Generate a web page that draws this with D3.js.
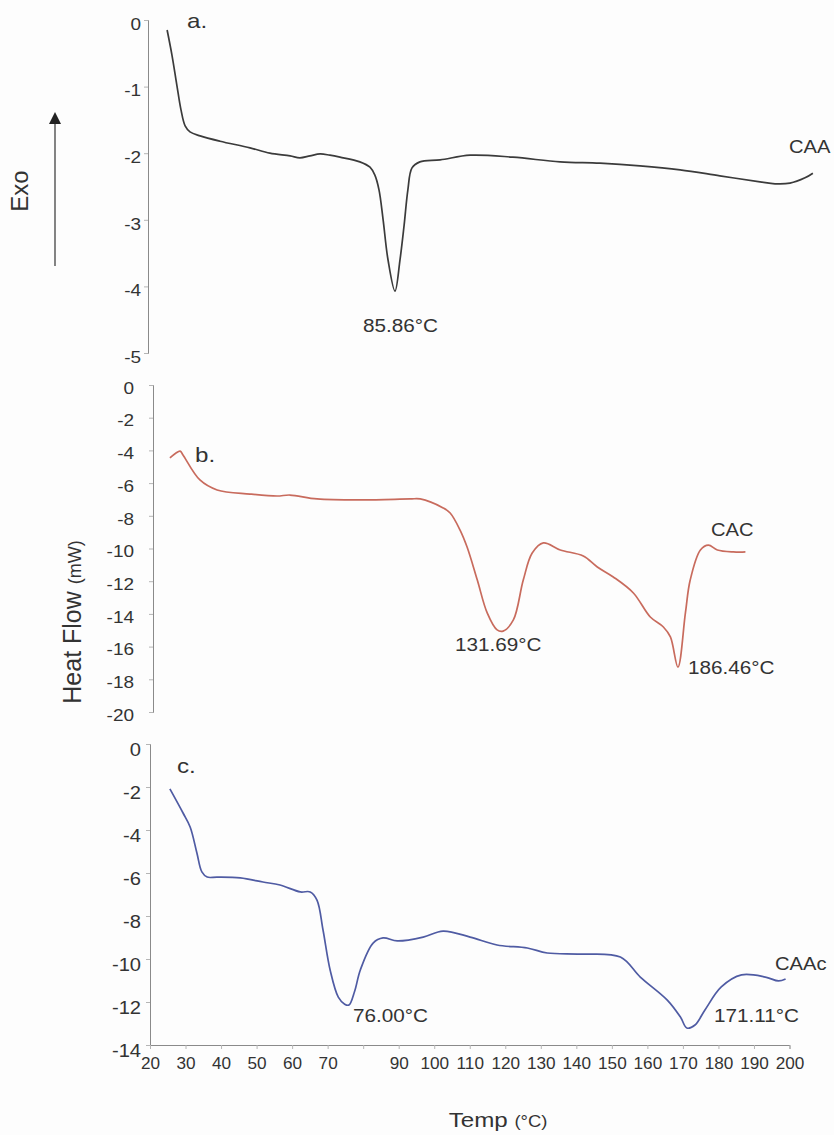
<!DOCTYPE html>
<html>
<head>
<meta charset="utf-8">
<script src="https://cdn.jsdelivr.net/npm/d3@7"></script>
<style>
  html, body { margin: 0; padding: 0; background: #fdfdfd; }
  svg { display: block; font-family: "Liberation Sans", Arial, sans-serif; }
</style>
</head>
<body>
<svg id="chart" width="834" height="1135"></svg>
<script>
// ---- DSC thermograms: temperature (°C) vs heat flow (mW) ----

// a. CAA
const caaTemp = [25.1, 26.4, 27.7, 28.8, 29.9, 31.2, 33.9, 39.2, 47.2, 52.5, 57.9, 60.5, 63.2, 65.9, 68.5, 71.2,
  76.5, 79.2, 80.5, 81.6, 82.7, 84.0, 85.86, 87.2, 88.3, 89.3, 90.4, 92.5, 97.9, 105.9, 117.3, 129.9,
  140.5, 151.2, 161.9, 172.5, 183.2, 187.2, 191.2, 195.2, 197.3];
const caaFlow = [-0.15, -0.53, -0.98, -1.35, -1.59, -1.68, -1.74, -1.82, -1.92, -2.0, -2.04, -2.07, -2.04, -2.01, -2.03, -2.06,
  -2.13, -2.21, -2.33, -2.55, -3.0, -3.6, -4.07, -3.6, -3.08, -2.55, -2.22, -2.13, -2.1, -2.03, -2.06, -2.13,
  -2.15, -2.19, -2.25, -2.34, -2.43, -2.46, -2.45, -2.37, -2.3];

// b. CAC
const cacTemp = [27.3, 30.5, 31.4, 36.7, 42.1, 52.4, 60.9, 64.9, 73.4, 87.8, 102.6, 105.7, 112.9, 115.1, 118.2, 120.4,
  123.6, 126.7, 129.8, 131.69, 134.9, 138.0, 140.8, 144.3, 149.6, 156.8, 161.2, 166.2, 172.5, 177.8, 181.9,
  184.1, 186.46, 188.8, 190.3, 193.5, 196.0, 198.8, 203.8, 207.6];
const cacFlow = [-4.46, -4.04, -4.28, -5.81, -6.42, -6.67, -6.79, -6.73, -6.97, -7.03, -6.97, -6.97, -7.52, -7.83, -8.87, -9.91,
  -11.93, -13.94, -14.98, -15.05, -14.37, -11.93, -10.28, -9.66, -10.09, -10.46, -11.13, -11.74, -12.72, -14.19, -14.8,
  -15.41, -17.25, -13.94, -11.93, -10.09, -9.79, -10.09, -10.21, -10.21];

// c. CAAc
const caacTemp = [25.6, 29.3, 31.3, 33.2, 34.6, 36.1, 38.9, 45.4, 51.8, 56.6, 62.3, 65.1, 67.0, 68.7, 70.7, 73.0,
  74.8, 76.0, 77.6, 79.2, 82.8, 85.6, 89.6, 96.9, 102.5, 110.1, 117.7, 126.2, 131.8, 141.1, 152.4, 158.0, 165.6,
  169.3, 171.11, 173.4, 176.2, 180.8, 186.5, 193.2, 196.9, 198.9];
const caacFlow = [-2.09, -3.21, -3.86, -5.07, -5.95, -6.19, -6.19, -6.23, -6.42, -6.56, -6.88, -6.88, -7.26, -8.65, -10.51, -11.77,
  -12.1, -12.14, -11.5, -10.51, -9.26, -9.02, -9.16, -8.98, -8.70, -8.98, -9.35, -9.49, -9.72, -9.77, -9.91, -10.84, -11.91,
  -12.70, -13.21, -13.07, -12.37, -11.30, -10.74, -10.84, -11.02, -10.93];

// axis ticks
const yTicksA = [0, -1, -2, -3, -4, -5];
const yTicksB = [0, -2, -4, -6, -8, -10, -12, -14, -16, -18, -20];
const yTicksC = [0, -2, -4, -6, -8, -10, -12, -14];
const xTicksC = [20, 30, 40, 50, 60, 70, 80, 90, 100, 110, 120, 130, 140, 150, 160, 170, 180, 190, 200];
const xTickLabelsC = ["20", "30", "40", "50", "60", "70", "", "90", "100", "110", "120", "130", "140", "150", "160", "170", "180", "190", "200"];

// peak annotations
const peaksA = [85.86];
const peaksB = [131.69, 186.46];
const peaksC = [76.00, 171.11];

const svg = d3.select("#chart");
const axisColor = "#8a8a8a";
const textColor = "#333";
const WIDEN = 1.15;   // figure text is set slightly wide

// widen horizontal text by a factor, keeping its anchor
function widen(sel, k) {
  sel.each(function () {
    const w = this.getComputedTextLength();
    if (w > 0) d3.select(this).attr("textLength", w * k).attr("lengthAdjust", "spacingAndGlyphs");
  });
  return sel;
}

const panels = [
  { id: "a", name: "CAA", temp: caaTemp, flow: caaFlow, ticks: yTicksA, peaks: peaksA,
    xDomain: [20, 200], xRange: [148, 823], yDomain: [0, -5], yRange: [20, 353],
    tickFont: 16.5, tickPad: 3, tickShift: 4,
    color: "#3b3b3b", letter: [187, 28], nameAt: [789, 153],
    peakLabels: [[363, 332]] },
  { id: "b", name: "CAC", temp: cacTemp, flow: cacFlow, ticks: yTicksB, peaks: peaksB,
    xDomain: [22, 220], xRange: [153, 785], yDomain: [0, -20], yRange: [385, 712],
    tickFont: 16.5, tickPad: 15, tickShift: 3,
    color: "#c86b5d", letter: [195, 462], nameAt: [711, 536],
    peakLabels: [[455, 651], [688, 674]] },
  { id: "c", name: "CAAc", temp: caacTemp, flow: caacFlow, ticks: yTicksC, peaks: peaksC,
    xDomain: [20, 200], xRange: [150, 789.5], yDomain: [0, -14], yRange: [744, 1045],
    tickFont: 17.5, tickPad: 5, tickShift: 6,
    color: "#4f5ba3", letter: [177, 773], nameAt: [775, 970],
    peakLabels: [[353, 1022], [714, 1022]] }
];

panels.forEach(p => {
  const x = d3.scaleLinear().domain(p.xDomain).range(p.xRange);
  const y = d3.scaleLinear().domain(p.yDomain).range(p.yRange);
  const g = svg.append("g").attr("class", "panel-" + p.id);

  // y axis (plain hyphen for negative numbers)
  const yAxis = d3.axisLeft(y).tickValues(p.ticks).tickSize(4).tickPadding(p.tickPad).tickFormat(d => String(d));
  const ya = g.append("g").attr("transform", `translate(${p.xRange[0]},0)`).call(yAxis);
  ya.select(".domain").attr("stroke", axisColor).attr("stroke-width", 1);
  ya.selectAll(".tick line").attr("stroke", "#b5b5b5");
  widen(ya.selectAll(".tick text").attr("fill", textColor).attr("font-size", p.tickFont)
    .attr("y", p.tickShift).attr("font-family", "'Liberation Sans', Arial, sans-serif"), WIDEN);

  // trace
  const pts = p.temp.map((t, i) => [t, p.flow[i]]);
  const line = d3.line().x(d => x(d[0])).y(d => y(d[1])).curve(d3.curveCatmullRom.alpha(0.5));
  g.append("path").datum(pts).attr("d", line)
    .attr("fill", "none").attr("stroke", p.color).attr("stroke-width", 1.7)
    .attr("stroke-linejoin", "round");

  // panel letter and sample name
  widen(g.append("text").attr("x", p.letter[0]).attr("y", p.letter[1])
    .attr("font-size", 21).attr("fill", textColor).text(p.id + "."), WIDEN);
  widen(g.append("text").attr("x", p.nameAt[0]).attr("y", p.nameAt[1])
    .attr("font-size", 17.5).attr("fill", textColor).text(p.name), WIDEN);

  // peak temperature labels
  p.peaks.forEach((pk, i) => {
    widen(g.append("text").attr("x", p.peakLabels[i][0]).attr("y", p.peakLabels[i][1])
      .attr("font-size", 18).attr("fill", textColor).text(pk.toFixed(2) + "°C"), WIDEN);
  });

  // x axis only on the bottom panel
  if (p.id === "c") {
    const xAxis = d3.axisBottom(x).tickValues(xTicksC).tickSize(4).tickPadding(8)
      .tickFormat((d, i) => xTickLabelsC[i]);
    const xa = g.append("g").attr("transform", `translate(0,${p.yRange[1]})`).call(xAxis);
    xa.select(".domain").attr("stroke", axisColor).attr("stroke-width", 1);
    xa.selectAll(".tick line").attr("stroke", "#b5b5b5");
    widen(xa.selectAll(".tick text").attr("fill", textColor).attr("font-size", 16.5)
      .attr("font-family", "'Liberation Sans', Arial, sans-serif"), 1.04);
  }
});

// Exo arrow
svg.append("defs").append("marker")
  .attr("id", "arrowhead").attr("viewBox", "0 0 10 10").attr("refX", 5).attr("refY", 5)
  .attr("markerWidth", 10).attr("markerHeight", 12).attr("orient", "auto")
  .append("path").attr("d", "M0,0 L10,5 L0,10 Z").attr("fill", "#222");
svg.append("line").attr("x1", 55).attr("y1", 266).attr("x2", 55).attr("y2", 118)
  .attr("stroke", "#333").attr("stroke-width", 1.2).attr("marker-end", "url(#arrowhead)");
svg.append("text").attr("transform", "translate(28,191) rotate(-90)")
  .attr("text-anchor", "middle").attr("font-size", 24).attr("fill", textColor).text("Exo");

// Axis titles
const yTitle = svg.append("text").attr("transform", "translate(81,622) rotate(-90)")
  .attr("text-anchor", "middle").attr("fill", textColor);
yTitle.append("tspan").attr("font-size", 25).text("Heat Flow ");
yTitle.append("tspan").attr("font-size", 18).text("(mW)");

const xTitle = svg.append("text").attr("x", 498).attr("y", 1127)
  .attr("text-anchor", "middle").attr("fill", textColor);
xTitle.append("tspan").attr("font-size", 21).text("Temp ");
xTitle.append("tspan").attr("font-size", 16).text("(°C)");
widen(xTitle, WIDEN);
</script>
</body>
</html>
